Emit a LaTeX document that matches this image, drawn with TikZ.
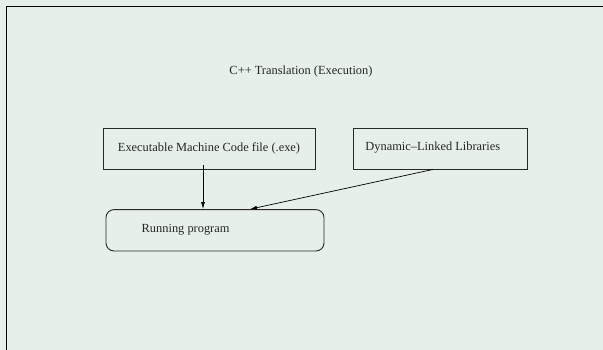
\documentclass[tikz,border=0pt]{standalone}
\usepackage{fontspec}
\setmainfont{Liberation Serif}
\usetikzlibrary{arrows.meta}
\definecolor{bg}{RGB}{230,240,232}
\definecolor{edge}{RGB}{40,40,40}
\begin{document}
\begin{tikzpicture}[x=1pt,y=-1pt,
  box/.style={draw=edge,line width=0.9pt,inner sep=0pt,rectangle},
  lbl/.style={inner sep=0pt,text=black!85,font=\fontsize{12.4}{14}\selectfont},
  arr/.style={draw=black,line width=0.7pt,-{Latex[length=7pt,width=4pt]}}]
\fill[bg] (0,0) rectangle (603,350);
\useasboundingbox (0,0) rectangle (603,350);
\draw[black,line width=0.9pt] (6,352) -- (6,6) -- (605,6);
\node[lbl] (title) at (301,72) {C++ Translation (Execution)};
\node[box,minimum width=212pt,minimum height=40.5pt] (b1) at (209,148.75) {};
\node[box,minimum width=174pt,minimum height=40.5pt] (b2) at (440,148.75) {};
\node[box,rounded corners=8pt,minimum width=218pt,minimum height=41.4pt] (run) at (215,230.3) {};
\node[lbl] (t1) at (209,148) {Executable Machine Code file (.exe)};
\node[lbl] (t2) at (432.8,148) {Dynamic{\char"2013}Linked Libraries};
\node[lbl] (t3) at (185.6,230) {Running program};
\draw[arr] ([xshift=-6pt,yshift=4pt]b1.south) -- ([xshift=-6pt]b1.south |- run.north);
\draw[arr] ([xshift=-7pt]b2.south) -- ([xshift=35pt]run.north);
\end{tikzpicture}
\end{document}
